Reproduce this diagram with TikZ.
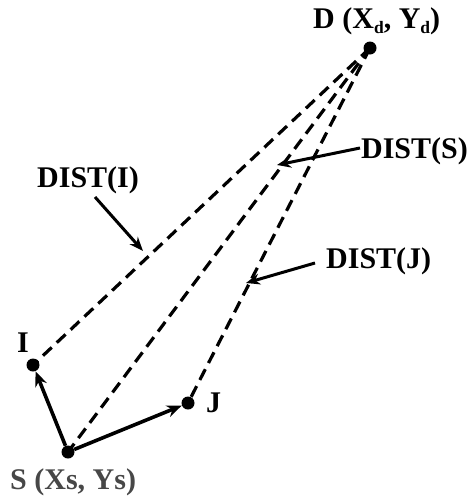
\documentclass[tikz,border=0pt]{standalone}
\usepackage{fontspec}
\setmainfont{Liberation Serif}
\usetikzlibrary{arrows.meta}
\newcommand{\sbd}{\raisebox{-0.4ex}{\fontsize{17.5}{19}\selectfont d}}
\begin{document}
\begin{tikzpicture}[x=1pt,y=-1pt,
  lbl/.style={font=\fontsize{30}{33}\selectfont\bfseries, anchor=base west, inner sep=0pt},
  dot/.style={circle, fill=black, minimum size=13pt, inner sep=0pt},
  dist/.style={line width=3.2pt, dash pattern=on 12pt off 7pt},
  vec/.style={line width=3.6pt, -{Stealth[length=15pt,width=12pt]}},
  ptr/.style={line width=3pt, -{Stealth[length=14pt,width=11pt]}}]
\useasboundingbox (0,0) rectangle (472,498);
\node[dot] (D) at (370,48) {};
\node[dot] (I) at (33,365) {};
\node[dot] (J) at (188,403) {};
\node[dot] (S) at (68,452) {};
\node[lbl] (Dl) at (313,28) {D (X\sbd, Y\sbd)};
\node[lbl] (Il) at (17,352) {I};
\node[lbl] (Jl) at (206,412) {J};
\node[lbl, text=black!72] (Sl) at (10,489) {S (Xs, Ys)};
\node[lbl] (DI) at (37,187) {DIST(I)};
\node[lbl, anchor=base east] (DS) at (468,158) {DIST(S)};
\node[lbl] (DJ) at (326,268) {DIST(J)};
\coordinate (aI0) at (95,197);
\coordinate (aI1) at (143,251);
\coordinate (aS0) at (360,148);
\coordinate (aS1) at (277,165);
\coordinate (aJ0) at (315,263);
\coordinate (aJ1) at (246,283);
\draw[dist] (D.center) -- (I.center);
\draw[dist] (D.center) -- (S.center);
\draw[dist] (D.center) -- (J.center);
\draw[vec] (S) -- (I);
\draw[vec] (S) -- (J);
\draw[ptr] (aI0) -- (aI1);
\draw[ptr] (aS0) -- (aS1);
\draw[ptr] (aJ0) -- (aJ1);
\end{tikzpicture}
\end{document}
